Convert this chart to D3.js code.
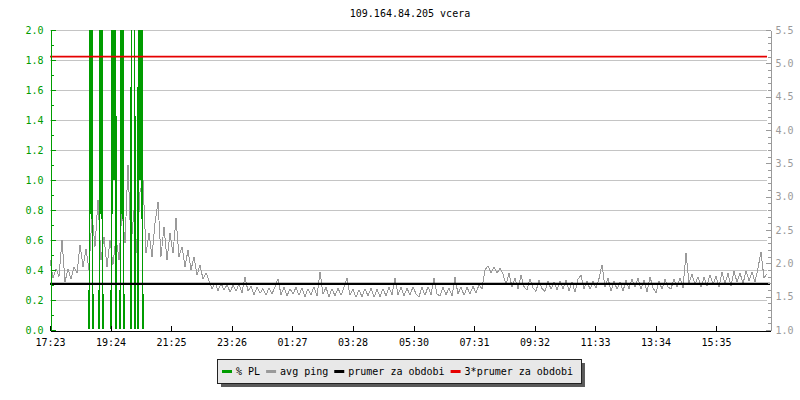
<!DOCTYPE html>
<html>
<head>
<meta charset="utf-8">
<script src="https://cdn.jsdelivr.net/npm/d3@7"></script>
<style>
  body { margin: 0; background: #fff; }
  svg { display: block; font-family: "DejaVu Sans Mono", monospace; }
</style>
</head>
<body>
<div id="chart"></div>
<script>
const WIDTH = 800;
const HEIGHT = 400;

const title = "109.164.84.205 vcera";

// time ticks as printed on the chart (start of the window is 17:23)
const startLabel = "17:23";
const spanMinutes = 1440;
const timeTicks = ["17:23","19:24","21:25","23:26","01:27","03:28","05:30","07:31","09:32","11:33","13:34","15:35"];

// left axis (% PL) and right axis (ping ms)
const leftTicks = [0.0,0.2,0.4,0.6,0.8,1.0,1.2,1.4,1.6,1.8,2.0];
const rightTicks = [1.0,1.5,2.0,2.5,3.0,3.5,4.0,4.5,5.0,5.5];

// avg ping, one sample every 6 minutes from 17:23
const pingStep = 6;
const avgPing = [
  2.05,1.78,1.92,1.80,2.35,1.72,1.92,1.76,1.95,1.85,2.28,1.95,2.22,
  1.90,2.73,2.25,2.95,2.05,2.40,1.95,2.35,1.98,2.40,2.05,2.80,2.30,3.48,2.25,2.80,2.15,3.07,3.25,2.15,
  2.45,2.10,2.60,2.92,2.10,2.55,2.05,2.45,2.15,2.68,2.10,2.25,1.95,2.20,1.90,2.10,1.82,1.98,1.76,1.86,
  1.74,1.62,1.71,1.59,1.70,1.60,1.68,1.57,1.67,1.58,1.69,1.56,1.80,1.58,
  1.66,1.53,1.64,1.55,1.62,1.52,1.63,1.54,1.65,1.77,1.53,1.64,1.51,1.62,1.54,
  1.64,1.52,1.63,1.50,1.62,1.53,1.65,1.51,1.87,1.54,1.64,1.50,1.62,1.51,1.63,1.52,1.64,
  1.78,1.52,1.61,1.49,1.60,1.50,1.62,1.51,1.63,1.49,1.61,1.50,1.62,1.51,1.64,1.53,1.78,
  1.53,1.64,1.51,1.63,1.52,1.65,1.54,1.50,1.64,1.52,1.65,1.53,1.78,1.54,
  1.51,1.64,1.53,1.63,1.51,1.79,1.54,1.65,1.52,1.64,1.54,1.66,1.55,1.68,
  1.62,1.90,1.96,1.86,1.94,1.85,1.93,1.84,1.68,1.86,1.64,1.78,1.62,1.82,1.65,1.60,
  1.77,1.63,1.58,1.75,1.62,1.58,1.74,1.61,1.72,1.60,1.73,1.62,1.75,1.59,1.72,1.57,
  1.76,1.82,1.62,1.74,1.61,1.73,1.63,1.77,1.98,1.64,1.78,1.58,1.74,1.61,1.72,1.58,
  1.75,1.62,1.77,1.64,1.78,1.61,1.75,1.57,1.80,1.63,1.56,1.74,1.61,1.76,1.64,1.62,
  1.76,1.64,1.78,1.63,2.15,1.70,1.84,1.68,1.80,1.64,1.79,1.66,1.83,1.68,1.81,1.65,
  1.87,1.70,1.85,1.66,1.88,1.72,1.86,1.69,1.89,1.74,1.87,1.72,1.93,2.17,1.78,1.84
];

// % packet loss, one sample every 2 minutes, starting 76 minutes after 17:23 (0 elsewhere)
const plStep = 2;
const plStartMin = 76;
const packetLoss = [
  0,0,1,6,1,0,0,0,0,0,0,0,1,6,1,0,
  0,0,0,0,0,0,0,0,1,6,1,6,0,0,0,0,
  0,1,6,1,0,0,0,0,0,0,0,0,6,6,6,0,
  0,0,0,6,1,6,1,0,0
];

// average for the period and 3x average (ping scale)
const periodAvg = 1.7;
const periodAvg3 = 5.1;

const legendItems = ["% PL","avg ping","prumer za obdobi","3*prumer za obdobi"];
const legendColors = ["#009c00","#9a9a9a","#000000","#e60000"];

const GREEN = "#009c00", GRAY = "#9a9a9a", GRID = "#c4c4c4", RED = "#e60000";

function main(){
    const left = 50, right = 770, top = 30, bottom = 330, gridEnd = 767;

    const svg = d3.select("#chart").append("svg")
        .attr("width",WIDTH)
        .attr("height",HEIGHT);

    const [sh, sm] = startLabel.split(":").map(Number);
    const start = new Date(2024,0,1,sh,sm);
    const addMin = m => new Date(+start + m*60000);

    const x = d3.scaleTime().domain([start, addMin(spanMinutes)]).range([left,right]);
    const yL = d3.scaleLinear().domain([0,2]).range([bottom,top]);
    const yR = d3.scaleLinear().domain([1,5.5]).range([bottom,top]);

    const tickTimes = timeTicks.map(t => {
        const [h,m] = t.split(":").map(Number);
        let d = new Date(2024,0,1,h,m);
        if (d < start) d = new Date(+d + 86400000);
        return d;
    });

    svg.append("text")
        .attr("x",(left+right)/2)
        .attr("y",17)
        .attr("text-anchor","middle")
        .style("font-size","10px")
        .attr("fill","#000")
        .text(title);

    const defs = svg.append("defs");
    defs.append("clipPath").attr("id","plot")
        .append("rect").attr("x",left).attr("y",top).attr("width",right-left).attr("height",bottom-top);
    // the loss line sits on 0 between spikes: keep it under the time axis
    defs.append("clipPath").attr("id","plotPL")
        .append("rect").attr("x",left).attr("y",top).attr("width",right-left).attr("height",bottom-top-1);

    // grid
    svg.append("g").selectAll("line")
        .data(leftTicks.filter(d => d > 0))
        .enter().append("line")
        .attr("x1",left).attr("x2",gridEnd)
        .attr("y1",d => Math.round(yL(d))+0.5)
        .attr("y2",d => Math.round(yL(d))+0.5)
        .attr("stroke",GRID)
        .attr("shape-rendering","crispEdges");

    const pingLine = d3.line()
        .x((d,i) => x(addMin(i*pingStep)))
        .y(d => yR(d));
    svg.append("g").attr("clip-path","url(#plot)")
        .append("path")
        .datum(avgPing)
        .attr("d",pingLine)
        .attr("fill","none")
        .attr("stroke",GRAY)
        .attr("stroke-width",1)
        .attr("shape-rendering","crispEdges");

    const plLine = d3.line()
        .x((d,i) => x(addMin(plStartMin + i*plStep)))
        .y(d => yL(d));
    svg.append("g").attr("clip-path","url(#plotPL)")
        .append("path")
        .datum(packetLoss)
        .attr("d",plLine)
        .attr("fill","none")
        .attr("stroke",GREEN)
        .attr("stroke-width",1.5)
        .attr("shape-rendering","crispEdges");

    svg.append("line")
        .attr("x1",left).attr("x2",right)
        .attr("y1",yR(periodAvg)+0.5).attr("y2",yR(periodAvg)+0.5)
        .attr("stroke","#000")
        .attr("stroke-width",2.2);

    svg.append("line")
        .attr("x1",left).attr("x2",gridEnd)
        .attr("y1",yR(periodAvg3)).attr("y2",yR(periodAvg3))
        .attr("stroke",RED)
        .attr("stroke-width",1.6);

    // left axis
    const leftAxis = svg.append("g")
        .attr("transform",`translate(${left+0.5},0)`)
        .call(d3.axisLeft(yL).tickValues(leftTicks).tickFormat(d3.format(".1f"))
            .tickSizeInner(-5).tickSizeOuter(0).tickPadding(7));
    svg.append("g")
        .attr("transform",`translate(${left+0.5},0)`)
        .call(d3.axisLeft(yL).tickValues(d3.range(1,20,2).map(d => d/10)).tickFormat("")
            .tickSizeInner(-3).tickSizeOuter(0))
        .call(g => g.select(".domain").remove())
        .selectAll("line").attr("stroke",GREEN);
    leftAxis.select(".domain").attr("stroke",GREEN);
    leftAxis.selectAll("line").attr("stroke",GREEN);
    leftAxis.selectAll("text").attr("fill",GREEN);

    // right axis
    const rightAxis = svg.append("g")
        .attr("transform",`translate(${right+0.5},0)`)
        .call(d3.axisRight(yR).tickValues(rightTicks).tickFormat(d3.format(".1f"))
            .tickSizeInner(-5).tickSizeOuter(0).tickPadding(5));
    svg.append("g")
        .attr("transform",`translate(${right+0.5},0)`)
        .call(d3.axisRight(yR).tickValues(d3.range(10,56).filter(d => d%5 != 0).map(d => d/10)).tickFormat("")
            .tickSizeInner(-3).tickSizeOuter(0))
        .call(g => g.select(".domain").remove())
        .selectAll("line").attr("stroke",GRAY);
    rightAxis.select(".domain").attr("stroke",GRAY);
    rightAxis.selectAll("line").attr("stroke",GRAY);
    rightAxis.selectAll("text").attr("fill",GRAY);

    // time axis
    const xAxis = svg.append("g")
        .attr("transform",`translate(0,${bottom+0.5})`)
        .call(d3.axisBottom(x).tickValues(tickTimes).tickFormat(d3.timeFormat("%H:%M"))
            .tickSizeInner(-5).tickSizeOuter(0).tickPadding(8));
    xAxis.selectAll("text").attr("fill","#000");

    svg.selectAll(".tick text")
        .attr("font-family","DejaVu Sans Mono, monospace")
        .attr("font-size","10px");
    svg.selectAll(".domain, .tick line").attr("shape-rendering","crispEdges");

    // legend
    const legend = svg.append("g");
    const shadow = legend.append("rect").attr("fill","#5a5a5a");
    const box = legend.append("rect").attr("fill","#e8e8e8").attr("stroke","#222").attr("shape-rendering","crispEdges");
    let lx = 222;
    const ly = 371;
    legendItems.forEach((name,i) => {
        legend.append("line")
            .attr("x1",lx).attr("x2",lx+10)
            .attr("y1",ly+0.5).attr("y2",ly+0.5)
            .attr("stroke",legendColors[i])
            .attr("stroke-width",3);
        const t = legend.append("text")
            .attr("x",lx+14)
            .attr("y",ly+4)
            .style("font-size","10px")
            .attr("fill","#000")
            .text(name);
        lx += 14 + t.node().getComputedTextLength() + 6;
    });
    const bx = 217, by = 359, bw = lx - bx + 2, bh = 24;
    box.attr("x",bx+0.5).attr("y",by+0.5).attr("width",bw).attr("height",bh);
    shadow.attr("x",bx+4).attr("y",by+4).attr("width",bw).attr("height",bh);
}

window.addEventListener("load",main);
</script>
</body>
</html>
